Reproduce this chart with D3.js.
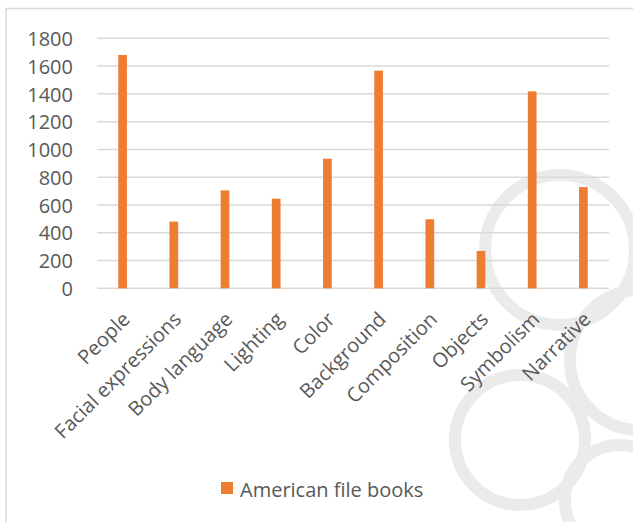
<!DOCTYPE html>
<html>
<head>
<meta charset="utf-8">
<script src="https://cdn.jsdelivr.net/npm/d3@7"></script>
<style>
  body { margin: 0; background: #fff; }
  svg text { font-family: "Open Sans", "Liberation Sans", sans-serif; fill: #595959; }
</style>
</head>
<body>
<div class="chart"></div>
<script>
var categories = ["People", "Facial expressions", "Body language", "Lighting", "Color",
    "Background", "Composition", "Objects", "Symbolism", "Narrative"];
var values = [1680, 480, 705, 645, 933, 1567, 497, 269, 1418, 729];
var yTicks = [0, 200, 400, 600, 800, 1000, 1200, 1400, 1600, 1800];
var seriesName = "American file books";

function init() {
    var w = 633;
    var h = 522;

    var svg = d3.select(".chart")
        .append("svg")
        .attr("width", w)
        .attr("height", h);

    // faint watermark in the corner
    var wm = svg.append("g")
        .attr("fill", "none")
        .attr("stroke", "#ebebeb")
        .attr("stroke-width", 12);
    wm.append("circle").attr("cx", 560).attr("cy", 250).attr("r", 75);
    wm.append("circle").attr("cx", 640).attr("cy", 360).attr("r", 70);
    wm.append("circle").attr("cx", 520).attr("cy", 440).attr("r", 65);
    wm.append("circle").attr("cx", 620).attr("cy", 500).attr("r", 55);

    // chart frame
    svg.append("rect")
        .attr("x", 6)
        .attr("y", 8.5)
        .attr("width", w)
        .attr("height", h)
        .attr("fill", "none")
        .attr("stroke", "#d9d9d9")
        .attr("stroke-width", 1.5);

    var xScale = d3.scaleBand()
        .domain(categories)
        .range([97, 609])
        .paddingInner(0.83)
        .paddingOuter(0.415);

    var yScale = d3.scaleLinear()
        .domain([0, 1800])
        .range([288.3, 38.3]);

    // gridlines
    svg.append("g")
        .selectAll("line")
        .data(yTicks)
        .enter().append("line")
        .attr("x1", 97)
        .attr("x2", 609)
        .attr("y1", function(d) { return yScale(d); })
        .attr("y2", function(d) { return yScale(d); })
        .attr("stroke", "#d9d9d9")
        .attr("stroke-width", 1.5);

    // y axis labels
    var yAxis = d3.axisLeft(yScale)
        .tickValues(yTicks)
        .tickFormat(d3.format("d"))
        .tickSize(0)
        .tickPadding(0);
    var gy = svg.append("g")
        .attr("transform", "translate(73,0)")
        .call(yAxis);
    gy.select(".domain").remove();
    gy.selectAll("text")
        .style("font-size", "20px")
        .style("font-family", "'Open Sans', sans-serif")
        .attr("fill", "#595959")
        .attr("dy", "0.36em");

    // bars
    svg.selectAll(".bar")
        .data(values)
        .enter().append("rect")
        .attr("class", "bar")
        .attr("x", function(d, i) { return xScale(categories[i]); })
        .attr("width", xScale.bandwidth())
        .attr("y", function(d) { return yScale(d); })
        .attr("height", function(d) { return yScale(0) - yScale(d); })
        .attr("fill", "#ed7d31");

    // x axis labels, rotated
    svg.append("g")
        .selectAll("text")
        .data(categories)
        .enter().append("text")
        .attr("transform", function(d) {
            var cx = xScale(d) + xScale.bandwidth() / 2 - 2;
            return "translate(" + cx + ",310) rotate(-45)";
        })
        .attr("text-anchor", "end")
        .attr("dy", "0.75em")
        .style("font-size", "20px")
        .text(function(d) { return d; });

    // legend
    var legend = svg.append("g");
    legend.append("rect")
        .attr("x", 221)
        .attr("y", 482)
        .attr("width", 12)
        .attr("height", 12)
        .attr("fill", "#ed7d31");
    legend.append("text")
        .attr("x", 240)
        .attr("y", 497)
        .style("font-size", "20px")
        .text(seriesName);
}

window.onload = init;
</script>
</body>
</html>
